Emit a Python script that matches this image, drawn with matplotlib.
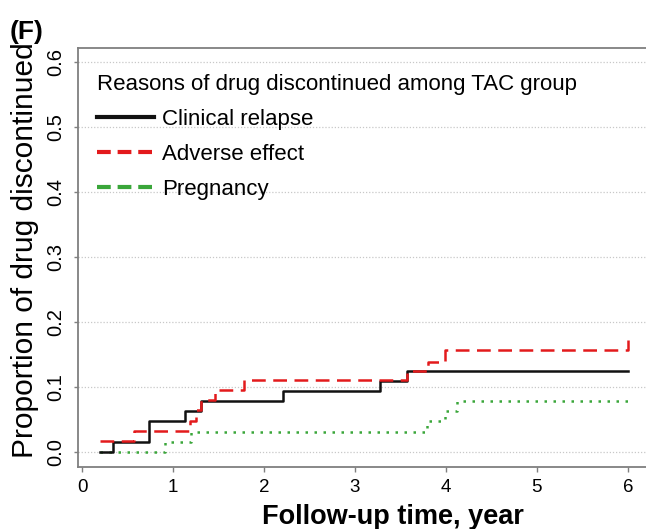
import matplotlib
matplotlib.use("Agg")
import matplotlib.pyplot as plt
from matplotlib.lines import Line2D

plt.rcParams['font.family'] = ['Liberation Sans', 'DejaVu Sans']

# Data (step functions, cumulative proportions)
relapse_t = [0.2, 0.34, 0.74, 1.13, 1.31, 2.21, 3.27, 3.57, 6.0]
relapse_p = [0.0, 0.0156, 0.047, 0.0625, 0.078, 0.094, 0.109, 0.125, 0.125]

adverse_t = [0.2, 0.575, 1.19, 1.25, 1.31, 1.46, 1.78, 3.57, 3.80, 3.99, 6.0, 6.0]
adverse_p = [0.0164, 0.032, 0.048, 0.064, 0.079, 0.095, 0.110, 0.125, 0.138, 0.156, 0.156, 0.172]

preg_t = [0.2, 0.91, 1.2, 3.79, 3.99, 4.12, 6.0]
preg_p = [0.0, 0.0156, 0.031, 0.047, 0.0625, 0.078, 0.078]

legend_labels = ["Clinical relapse", "Adverse effect", "Pregnancy"]
legend_title = "Reasons of drug discontinued among TAC group"
x_ticks = [0, 1, 2, 3, 4, 5, 6]
y_ticks = [0.0, 0.1, 0.2, 0.3, 0.4, 0.5, 0.6]

black = "#111111"
red = "#E31A1C"
green = "#3AA63A"
gray = "#7f7f7f"

fig = plt.figure(figsize=(6.46, 5.29), dpi=100)
ax = fig.add_axes([78/646, 62/529, 571/646, 419/529])

for y in y_ticks:
    ax.axhline(y, color="#c8c8c8", lw=0.9, ls=(0, (1, 1.5)), zorder=0)

ax.plot(relapse_t, relapse_p, drawstyle='steps-post', color=black, lw=1.8, zorder=3)
ax.plot(adverse_t, adverse_p, drawstyle='steps-post', color=red, lw=1.8,
        ls=(0, (5.5, 3.0)), zorder=4)
ax.plot(preg_t, preg_p, drawstyle='steps-post', color=green, lw=1.8,
        ls=(0, (1.0, 2.6)), zorder=2)

ax.set_xlim(-0.045, 6.232)
ax.set_ylim(-0.0235, 0.6215)
ax.set_xticks(x_ticks)
ax.set_xticklabels([str(v) for v in x_ticks], fontsize=13.5)
ax.set_yticks(y_ticks)
ax.set_yticklabels([f"{v:.1f}" for v in y_ticks], fontsize=14.5, rotation=90, va='center')
ax.tick_params(axis='x', length=3.5, width=1, color=gray, pad=5)
ax.tick_params(axis='y', length=3, width=1, color=gray, pad=6)
for s in ax.spines.values():
    s.set_color(gray)
    s.set_linewidth(1.3)

ax.set_xlabel("Follow-up time, year", fontsize=19.5, fontweight='bold', va='center')
ax.xaxis.set_label_coords(0.552, -0.119)
ax.set_ylabel("Proportion of drug discontinued", fontsize=21.5, va='center')
ax.yaxis.set_label_coords(-0.0928, 0.518)

handles = [
    Line2D([], [], color=black, lw=3.0),
    Line2D([], [], color=red, lw=3.0, ls=(0, (3.3, 1.65))),
    Line2D([], [], color=green, lw=3.0, ls=(0, (3.3, 1.65))),
]
leg = ax.legend(handles, legend_labels, title=legend_title, loc='upper left',
                bbox_to_anchor=(0.006, 0.975), frameon=False, fontsize=16,
                title_fontsize=16, handlelength=2.57, handletextpad=0.36,
                labelspacing=0.63, alignment='left', borderaxespad=0.3,
                borderpad=0.4)

fig.text(10/646, 1 - 32/529, "(F)", fontsize=19, fontweight='bold', va='center', ha='left')

fig.savefig("out.png", dpi=100)
